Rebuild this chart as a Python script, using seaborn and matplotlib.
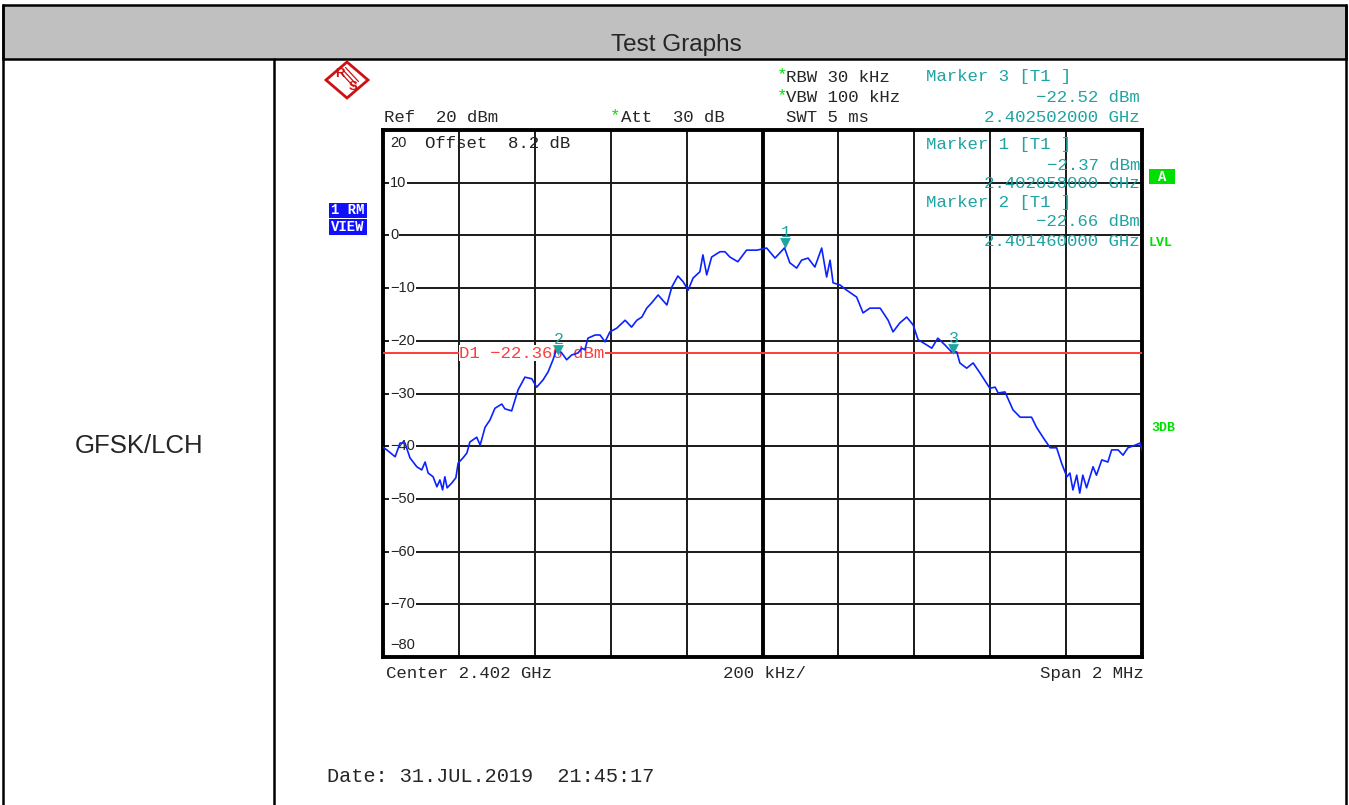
import numpy as np
import pandas as pd
import matplotlib
matplotlib.use("Agg")
import matplotlib.pyplot as plt
import matplotlib.transforms as mtransforms
from matplotlib.patches import Rectangle, Polygon
from matplotlib.lines import Line2D
import seaborn as sns

# ---------------- data ----------------
center_ghz = 2.402
span_mhz = 2.0
offset_khz = [-1000, -990, -968, -955, -942, -929, -911, -898, -889, -881, -868, -858,
              -850, -843, -837, -831, -819, -808, -802, -789, -779, -771, -753, -744,
              -731, -718, -705, -687, -679, -661, -644, -626, -608, -595, -578, -565,
              -552, -542, -529, -516, -503, -486, -476, -468, -460, -441, -428, -415,
              -402, -384, -362, -345, -331, -318, -305, -292, -275, -252, -239, -223,
              -209, -196, -183, -165, -157, -147, -134, -112, -99, -86, -65, -42,
              -15, 11, 33, 46, 58, 72, 90, 103, 120, 138, 156, 169, 178, 186, 204,
              222, 248, 265, 283, 310, 331, 344, 362, 380, 397, 410, 433, 446, 462,
              481, 498, 512, 520, 538, 555, 573, 599, 613, 621, 639, 660, 679, 709,
              722, 739, 758, 775, 788, 802, 810, 818, 828, 836, 844, 854, 871, 880,
              894, 910, 920, 937, 950, 963, 982, 995, 1000]
level_dbm = [-40.2, -40.7, -42.0, -39.4, -39.4, -42.2, -43.9, -44.5, -43.0, -45.1, -45.8, -47.7,
             -46.4, -48.3, -45.8, -47.9, -47.0, -46.0, -43.2, -42.2, -41.3, -39.2, -38.3, -39.8,
             -36.4, -35.0, -32.8, -32.0, -32.9, -33.3, -29.3, -26.9, -27.2, -28.8, -27.4, -25.9,
             -23.6, -21.4, -22.3, -23.6, -22.7, -22.3, -21.4, -21.7, -19.5, -18.9, -18.9, -20.2,
             -18.3, -17.6, -16.1, -17.4, -16.1, -15.5, -13.8, -12.8, -11.3, -13.2, -9.8, -7.7,
             -8.8, -10.4, -8.1, -6.9, -3.7, -7.5, -4.1, -3.1, -3.1, -4.1, -5.0, -2.8,
             -2.8, -2.4, -4.3, -3.3, -2.37, -5.2, -6.2, -4.7, -4.3, -6.0, -2.4, -7.9, -4.7, -9.0, -9.4,
             -10.4, -11.7, -14.7, -13.8, -13.8, -16.1, -18.3, -16.6, -15.5, -17.0, -19.8, -20.8, -21.4, -19.5,
             -20.8, -22.1, -22.1, -24.2, -25.2, -24.2, -26.1, -29.0, -28.8, -29.9, -29.7, -33.1, -34.5, -34.5,
             -36.4, -38.3, -40.3, -40.3, -43.2, -45.8, -45.1, -48.3, -45.5, -48.9, -45.5, -47.9, -43.9, -45.5,
             -42.6, -43.0, -40.7, -40.7, -41.7, -40.3, -39.8, -39.4, -40.7]
marker_labels = ["1", "2", "3"]
marker_freq_ghz = [2.402058, 2.401460, 2.402502]
marker_level_dbm = [-2.37, -22.66, -22.52]
display_line_dbm = -22.366
y_ticks = [20, 10, 0, -10, -20, -30, -40, -50, -60, -70, -80]
row_label = "GFSK/LCH"
header = "Test Graphs"

# ---------------- styling ----------------
sns.set_style("white")
plt.rcParams['font.family'] = ['Liberation Sans', 'DejaVu Sans']
MONO = ['Liberation Mono', 'DejaVu Sans Mono']
BLUE = '#0a22ff'
TEAL = '#1fa3a3'
RED = '#ff3b3b'
GREEN = '#00e000'
FS = 12.5

W, H = 1349, 805
fig = plt.figure(figsize=(W / 100, H / 100), dpi=100)
fig.patch.set_facecolor('white')


def fx(x):
    return x / W


def fy(y):
    return 1 - y / H


def ftext(x, y, s, **kw):
    kw.setdefault('va', 'center')
    fig.text(fx(x), fy(y), s, **kw)


# ---------------- table frame ----------------
fig.patches.append(Rectangle((fx(3), fy(59)), fx(1346) - fx(3), fy(5) - fy(59),
                             transform=fig.transFigure, facecolor='#c0c0c0',
                             edgecolor='black', lw=1.8, zorder=0))
for (x0, y0, x1, y1) in [(3, 5, 3, 806), (1346, 5, 1346, 806), (274, 59, 274, 806)]:
    fig.add_artist(Line2D([fx(x0), fx(x1)], [fy(y0), fy(y1)], transform=fig.transFigure,
                          color='black', lw=1.8))
ftext(676, 45, header, ha='center', fontsize=17.5, family=['Liberation Sans'])
ftext(139, 446, row_label, ha='center', fontsize=18.5, family=['Liberation Sans'])

# ---------------- spectrum axes ----------------
ax = fig.add_axes([fx(383), fy(657), (1142 - 383) / W, (657 - 130) / H])
df = pd.DataFrame({'freq': [center_ghz + k / 1e6 for k in offset_khz], 'level': level_dbm})
sns.lineplot(data=df, x='freq', y='level', ax=ax, color=BLUE, lw=1.2,
             estimator=None, sort=False, zorder=4)
ax.set_xlim(center_ghz - span_mhz / 2000, center_ghz + span_mhz / 2000)
ax.set_ylim(min(y_ticks), max(y_ticks))
ax.set_xticks(np.linspace(center_ghz - span_mhz / 2000, center_ghz + span_mhz / 2000, 11))
ax.set_yticks(y_ticks)
ax.grid(True, color='#1a1a1a', lw=1.4)
ax.tick_params(left=False, bottom=False, labelleft=False, labelbottom=False)
ax.set_xlabel('')
ax.set_ylabel('')
for s in ax.spines.values():
    s.set_visible(True)
    s.set_color('black')
    s.set_linewidth(2.8)
ax.axvline(center_ghz, color='black', lw=2.8, zorder=2)

trans = mtransforms.blended_transform_factory(ax.transAxes, ax.transData)
for v in y_ticks:
    yy = v
    if v == max(y_ticks):
        yy = v - 2.5
    elif v == min(y_ticks):
        yy = v + 2.2
    ax.text(0.0092, yy, str(v).replace('-', '\u2212'), transform=trans, va='center',
            ha='left', fontsize=10.5, color='#222222', zorder=3,
            bbox=dict(facecolor='white', edgecolor='none', pad=0.5))

# display line
ax.axhline(display_line_dbm, color=RED, lw=1.4, zorder=3)
ax.text(0.1005, display_line_dbm, 'D1 \u221222.366 dBm', transform=trans, va='center',
        ha='left', fontsize=FS, color=RED, family=MONO, zorder=3.5,
        bbox=dict(facecolor='white', edgecolor='none', pad=0.2))

# markers
ax.scatter([f for f in marker_freq_ghz], [l + 0.9 for l in marker_level_dbm], marker='v',
           s=60, color=TEAL, zorder=6, linewidths=0)
for lbl, f, l in zip(marker_labels, marker_freq_ghz, marker_level_dbm):
    ax.annotate(lbl, (f, l), xytext=(1, 11), textcoords='offset points', ha='center',
                va='center', color=TEAL, fontsize=12, family=MONO, zorder=6)

# ---------------- instrument annotations ----------------
ftext(425, 143, 'Offset  8.2 dB', fontsize=FS, family=MONO, color='#222222', zorder=5)
ftext(384, 118, 'Ref  20 dBm', fontsize=FS, family=MONO)
ftext(610, 116, '*', fontsize=FS, family=MONO, color=GREEN)
ftext(621, 118, 'Att  30 dB', fontsize=FS, family=MONO)
ftext(777, 75, '*', fontsize=FS, family=MONO, color=GREEN)
ftext(786, 77, 'RBW 30 kHz', fontsize=FS, family=MONO)
ftext(777, 96, '*', fontsize=FS, family=MONO, color=GREEN)
ftext(786, 98, 'VBW 100 kHz', fontsize=FS, family=MONO)
ftext(786, 118, 'SWT 5 ms', fontsize=FS, family=MONO)

ftext(926, 77, 'Marker 3 [T1 ]', fontsize=FS, family=MONO, color=TEAL)
ftext(1140, 98, '\u221222.52 dBm', ha='right', fontsize=FS, family=MONO, color=TEAL)
ftext(1140, 118, '2.402502000 GHz', ha='right', fontsize=FS, family=MONO, color=TEAL)
ftext(926, 145, 'Marker 1 [T1 ]', fontsize=FS, family=MONO, color=TEAL)
ftext(1140, 165, '\u22122.37 dBm', ha='right', fontsize=FS, family=MONO, color=TEAL)
ftext(1140, 184, '2.402058000 GHz', ha='right', fontsize=FS, family=MONO, color=TEAL)
ftext(926, 203, 'Marker 2 [T1 ]', fontsize=FS, family=MONO, color=TEAL)
ftext(1140, 222, '\u221222.66 dBm', ha='right', fontsize=FS, family=MONO, color=TEAL)
ftext(1140, 242, '2.401460000 GHz', ha='right', fontsize=FS, family=MONO, color=TEAL)

ftext(386, 673, 'Center 2.402 GHz', fontsize=FS, family=MONO)
ftext(723, 673, '200 kHz/', fontsize=FS, family=MONO)
ftext(1144, 673, 'Span 2 MHz', ha='right', fontsize=FS, family=MONO)
ftext(327, 776, 'Date: 31.JUL.2019  21:45:17', fontsize=14.6, family=MONO)

# right-side status labels
fig.patches.append(Rectangle((fx(1149), fy(184)), fx(1175) - fx(1149), fy(169) - fy(184),
                             transform=fig.transFigure, facecolor=GREEN, edgecolor='none'))
ftext(1162, 177, 'A', ha='center', fontsize=10, family=MONO, color='white', weight='bold')
ftext(1149, 243, 'LVL', fontsize=9.5, family=MONO, color=GREEN, weight='bold')
ftext(1151, 428, '3DB', fontsize=9.5, family=MONO, color=GREEN, weight='bold')

# left "1 RM / VIEW" labels
for (y0, y1, s) in [(203, 218, '1 RM'), (219, 235, 'VIEW')]:
    fig.patches.append(Rectangle((fx(329), fy(y1)), fx(367) - fx(329), fy(y0) - fy(y1),
                                 transform=fig.transFigure, facecolor='#1010ff',
                                 edgecolor='none'))
    ftext(348, (y0 + y1) / 2, s, ha='center', fontsize=10, family=MONO, color='white',
          weight='bold')

# R&S logo
fig.patches.append(Polygon([(fx(326), fy(80)), (fx(347), fy(62)), (fx(368), fy(80)),
                            (fx(347), fy(98))], closed=True, transform=fig.transFigure,
                           facecolor='white', edgecolor='#d01010', lw=2.0))
for d in (-2.5, 0, 2.5):
    fig.add_artist(Line2D([fx(343 + d), fx(356 + d)], [fy(70 - d), fy(84 - d)],
                          transform=fig.transFigure, color='#d01010', lw=0.9))
ftext(340, 74, 'R', ha='center', fontsize=9.5, color='#d01010', weight='bold')
ftext(353, 87, 'S', ha='center', fontsize=9.5, color='#d01010', weight='bold')

fig.savefig('out.png', dpi=100, facecolor='white')
